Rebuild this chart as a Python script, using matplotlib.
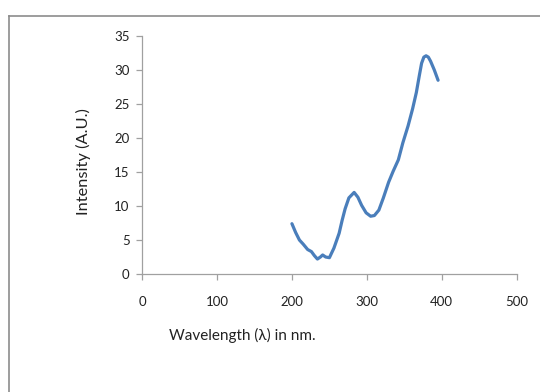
import matplotlib.pyplot as plt
from matplotlib.lines import Line2D

# valeurs
wavelength = [200, 205, 210, 215, 221, 226, 230, 234, 238, 241, 245, 250,
              256, 263, 267, 271, 276, 283, 288, 293, 299, 305, 310, 316,
              322, 329, 335, 342, 348, 355, 361, 366, 370, 373, 376, 379,
              382, 385, 390, 395]
intensity = [7.4, 6.1, 5.0, 4.4, 3.6, 3.3, 2.7, 2.2, 2.5, 2.8, 2.5, 2.4,
             3.8, 6.0, 7.9, 9.6, 11.2, 12.0, 11.3, 10.1, 9.0, 8.5, 8.6, 9.4,
             11.2, 13.5, 15.1, 16.8, 19.3, 21.8, 24.3, 26.7, 29.2, 31.0, 31.9, 32.1,
             31.9, 31.3, 30.0, 28.5]
xticks = [0, 100, 200, 300, 400, 500]
yticks = [0, 5, 10, 15, 20, 25, 30, 35]

plt.rcParams['font.family'] = ['Lato', 'DejaVu Sans']

fig = plt.figure(figsize=(5.4, 3.92), dpi=100)
ax = fig.add_axes([0.263, 0.301, 0.694, 0.607])

ax.plot(wavelength, intensity, color='#4a7ebb', linewidth=2.3,
        solid_capstyle='round', solid_joinstyle='round')

ax.set_xlim(0, 500)
ax.set_ylim(0, 35)
ax.set_xticks(xticks)
ax.set_yticks(yticks)

for s in ['top', 'right']:
    ax.spines[s].set_visible(False)
for s in ['left', 'bottom']:
    ax.spines[s].set_color('#a0a0a0')
    ax.spines[s].set_linewidth(0.9)
ax.tick_params(axis='both', colors='#a0a0a0', labelcolor='#222222',
               labelsize=9.5, length=4, width=0.9)
ax.tick_params(axis='x', pad=12)
ax.tick_params(axis='y', pad=5)

fig.text(0.448, 0.143, 'Wavelength (λ) in nm.', fontsize=11, ha='center', va='center',
         color='#222222')
fig.text(0.154, 0.588, 'Intensity (A.U.)', fontsize=11.8, rotation=90,
         ha='center', va='center', color='#222222')

# cadre du graphique (haut et gauche)
fig.add_artist(Line2D([9 / 540, 1], [1 - 16 / 392, 1 - 16 / 392],
                      transform=fig.transFigure, color='#8c8c8c', linewidth=1.2))
fig.add_artist(Line2D([9 / 540, 9 / 540], [0, 1 - 16 / 392],
                      transform=fig.transFigure, color='#8c8c8c', linewidth=1.2))

plt.savefig('out.png', dpi=100)
